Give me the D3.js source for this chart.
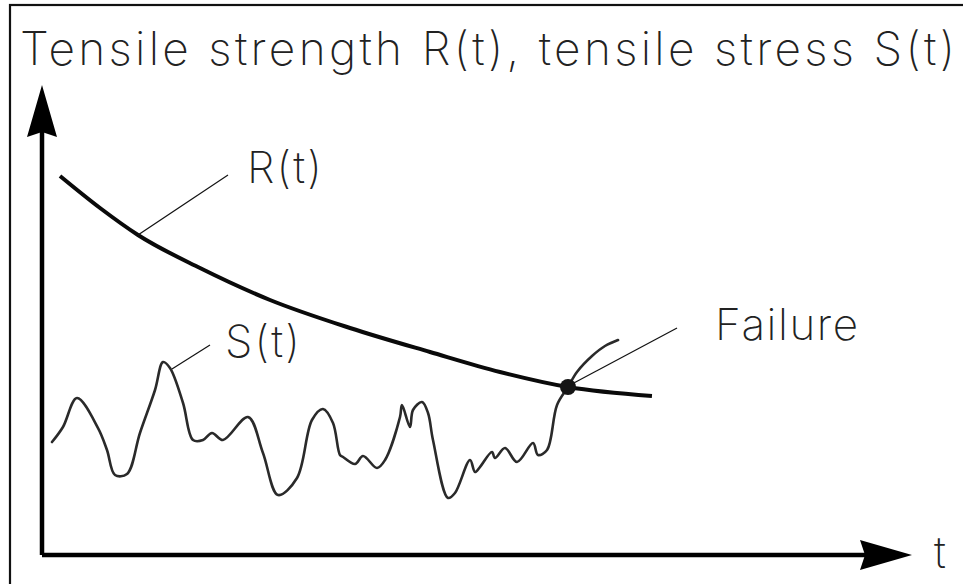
<!DOCTYPE html>
<html>
<head>
<meta charset="utf-8">
<script src="https://cdn.jsdelivr.net/npm/d3@7"></script>
<style>
  html, body { margin: 0; padding: 0; background: #fff; }
  svg { display: block; }
  .lbl { font-family: Inter, "DejaVu Sans", sans-serif; font-weight: 200; fill: #222; }
</style>
</head>
<body>
<div id="chart"></div>
<script>
// R(t): tensile strength (t in % of axis, value in % of axis)
const rT = [2.07, 6.67, 11.03, 18.16, 26.21, 35.40, 44.60, 52.64, 60.46, 70.11]
const rV = [80.64, 73.83, 68.09, 61.06, 54.26, 48.30, 43.19, 38.94, 35.74, 33.83]

// S(t): tensile stress, noisy path ending past failure
const sT = [1.15, 2.41, 4.02, 6.44, 7.47, 8.39, 9.77, 11.26, 12.99, 13.91, 14.71, 16.21, 17.36, 18.51,
    19.54, 20.80, 23.68, 25.40, 27.13, 29.31, 31.03, 32.30, 33.45, 34.25, 34.60, 35.98, 36.90, 38.51,
    39.43, 41.15, 41.38, 42.30, 42.64, 43.68, 44.37, 44.94, 46.67, 47.47, 49.20, 49.77, 50.34, 51.72,
    52.07, 53.22, 54.60, 56.44, 57.01, 58.05, 59.20, 60.46, 61.49, 63.22, 64.71, 66.21]
const sV = [24.04, 27.23, 33.40, 27.02, 22.34, 17.02, 17.23, 25.96, 35.11, 41.06, 39.79, 32.34, 24.47, 24.47,
    25.96, 24.47, 29.36, 21.70, 12.77, 16.38, 28.72, 31.06, 28.09, 21.28, 20.85, 19.36, 21.06, 18.51,
    20.21, 29.36, 31.91, 27.23, 30.85, 32.55, 30.21, 24.47, 12.13, 13.19, 20.21, 17.66, 18.72, 21.91,
    20.64, 22.77, 19.79, 23.83, 21.28, 22.34, 31.91, 35.74, 38.94, 42.34, 44.47, 45.74]

// failure point
const failT = 60.46, failV = 35.74

// annotation labels: text, anchor point on curve (t, v), leader end (t, v), label position (t, v)
const labels = ["R(t)", "S(t)", "Failure"]
const leaderFrom = [[11.03, 68.09], [14.94, 39.57], [60.92, 36.38]]
const leaderTo = [[21.38, 80.85], [19.31, 44.68], [72.99, 48.30]]
const labelAt = [[23.56, 79.15], [21.03, 42.13], [77.36, 45.74]]
const labelWidth = [75, 75, 143]

const title = "Tensile strength R(t), tensile stress S(t)"
const xLabel = "t"

let width = 963, height = 584
let svg = d3.select("#chart")
    .append("svg")
    .attr("width", width)
    .attr("height", height)

let x = d3.scaleLinear().domain([0, 100]).range([42, 912])
let y = d3.scaleLinear().domain([0, 100]).range([555, 85])

//外框
svg.append("rect")
    .attr("x", 10).attr("y", 5)
    .attr("width", 1000).attr("height", 1000)
    .attr("fill", "none")
    .attr("stroke", "#111")
    .attr("stroke-width", 2.2)

//标题
svg.append("text")
    .attr("class", "lbl")
    .attr("x", 20).attr("y", 65)
    .attr("font-size", 46)
    .attr("textLength", 935)
    .attr("lengthAdjust", "spacing")
    .text(title)

//坐标轴
let ax = svg.append("g")
let arrowLen = 52, arrowHalf = 15
ax.append("path")
    .attr("d", `M${x(0)},${y(0)} V${y(100) + arrowLen - 5} M${x(0)},${y(0)} H${x(100) - arrowLen + 5}`)
    .attr("stroke", "#000")
    .attr("stroke-width", 4.5)
    .attr("fill", "none")
ax.append("path")
    .attr("d", `M${x(0)},${y(100)} L${x(0) + arrowHalf},${y(100) + arrowLen} L${x(0)},${y(100) + arrowLen - 5} L${x(0) - arrowHalf},${y(100) + arrowLen} Z`)
    .attr("fill", "#000")
ax.append("path")
    .attr("d", `M${x(100)},${y(0)} L${x(100) - arrowLen},${y(0) - arrowHalf} L${x(100) - arrowLen + 5},${y(0)} L${x(100) - arrowLen},${y(0) + arrowHalf} Z`)
    .attr("fill", "#000")
svg.append("text")
    .attr("class", "lbl")
    .attr("x", 934).attr("y", 568)
    .attr("font-size", 44)
    .text(xLabel)

//曲线
let line = d3.line()
    .x((d) => x(d[0]))
    .y((d) => y(d[1]))

svg.append("path")
    .datum(sT.map((t, i) => [t, sV[i]]))
    .attr("d", line.curve(d3.curveCatmullRom.alpha(0.5)))
    .attr("fill", "none")
    .attr("stroke", "#2a2a2a")
    .attr("stroke-width", 2.6)
    .attr("stroke-linejoin", "round")
    .attr("stroke-linecap", "round")

svg.append("path")
    .datum(rT.map((t, i) => [t, rV[i]]))
    .attr("d", line.curve(d3.curveMonotoneX))
    .attr("fill", "none")
    .attr("stroke", "#0a0a0a")
    .attr("stroke-width", 4)

//标注
labels.forEach((item, i) => {
    svg.append("line")
        .attr("x1", x(leaderFrom[i][0])).attr("y1", y(leaderFrom[i][1]))
        .attr("x2", x(leaderTo[i][0])).attr("y2", y(leaderTo[i][1]))
        .attr("stroke", "#111")
        .attr("stroke-width", 1.2)
    svg.append("text")
        .attr("class", "lbl")
        .attr("x", x(labelAt[i][0])).attr("y", y(labelAt[i][1]))
        .attr("font-size", 44)
        .attr("textLength", labelWidth[i])
        .attr("lengthAdjust", "spacing")
        .text(item)
})

svg.append("circle")
    .attr("cx", x(failT)).attr("cy", y(failV))
    .attr("r", 8)
    .attr("fill", "#151515")
</script>
</body>
</html>
